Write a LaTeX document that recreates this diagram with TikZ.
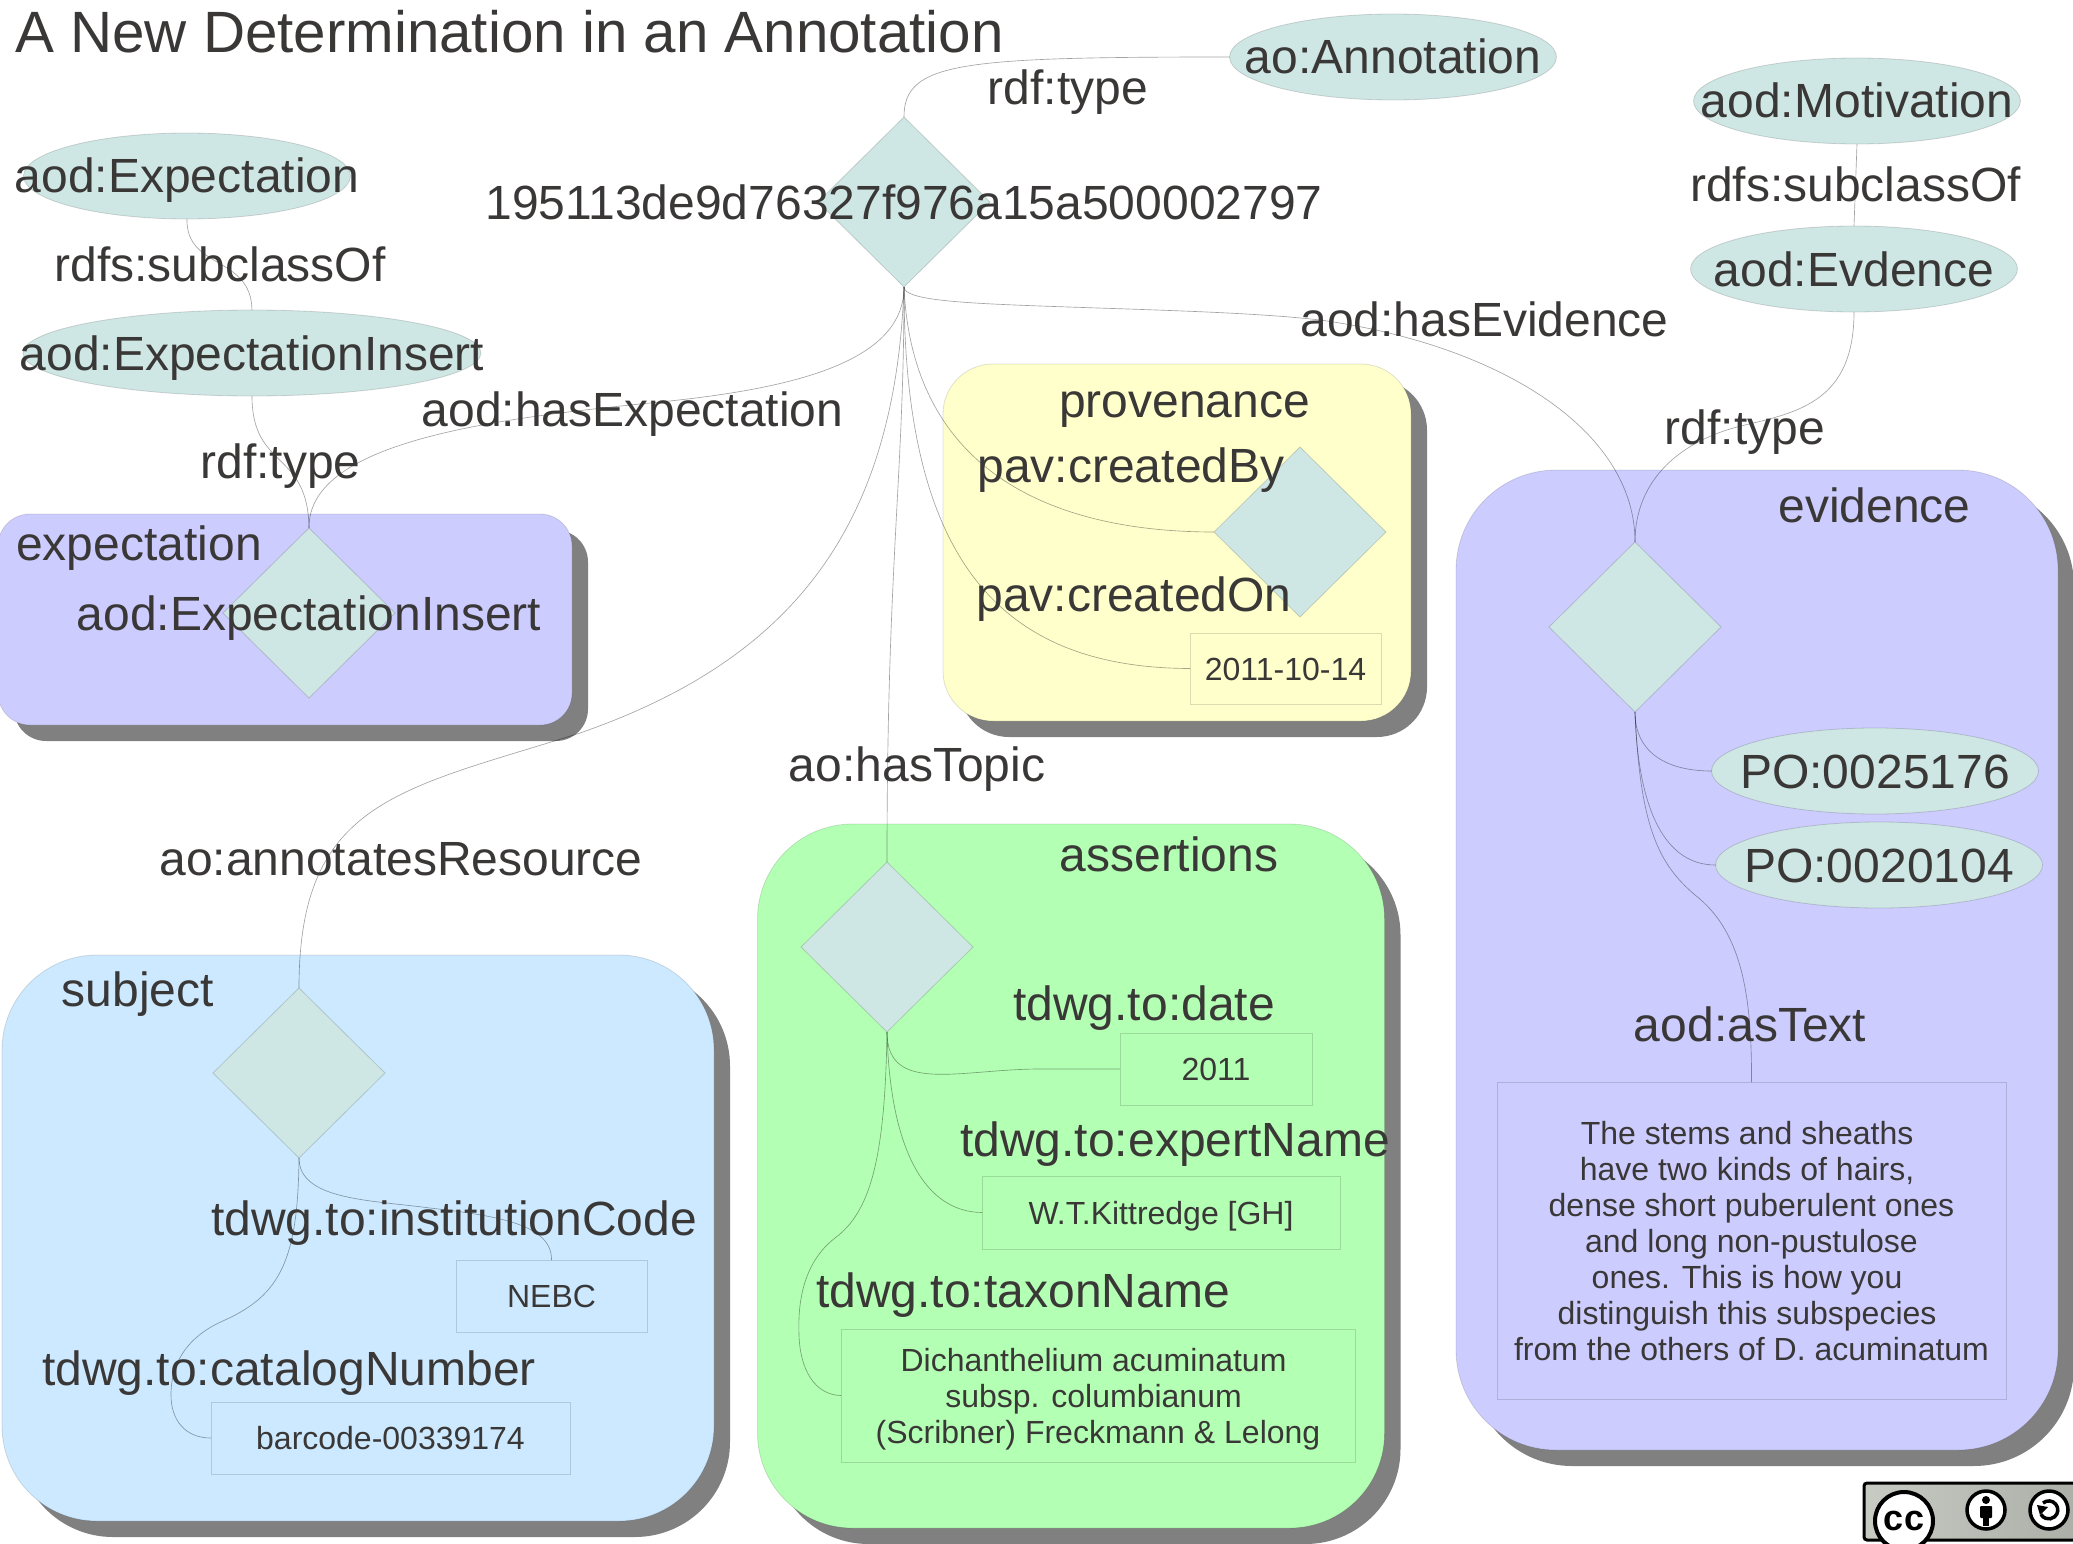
\documentclass[tikz,border=0pt]{standalone}
\usepackage{fontspec}
\setmainfont{Liberation Sans}
\usepackage{xcolor}
\usepackage{tikz}
\usetikzlibrary{shapes.geometric, shadows}
\definecolor{inktext}{RGB}{58,55,55}
\definecolor{shapeteal}{RGB}{207,231,228}
\definecolor{lavenderbox}{RGB}{204,204,254}
\definecolor{yellowbox}{RGB}{255,255,204}
\definecolor{greenbox}{RGB}{179,255,179}
\definecolor{bluebox}{RGB}{204,233,255}
\definecolor{boxshadow}{RGB}{128,128,128}
\definecolor{badgelight}{RGB}{200,203,196}
\definecolor{badgegray}{RGB}{168,172,164}
\newcommand{\trailgap}{\kern8.9pt}
\tikzset{
    ellipsenode/.style={ellipse, fill=shapeteal, draw=black, draw opacity=0.15, line width=0.8pt, inner sep=0pt, outer sep=0pt, minimum width=327pt, minimum height=86pt, text=inktext, text height=36pt, text depth=2pt, font=\fontsize{48}{56}\selectfont},
    diamondnode/.style={diamond, fill=shapeteal, draw=black, draw opacity=0.15, line width=0.8pt, inner sep=0pt, outer sep=0pt, minimum width=172pt, minimum height=170pt, text=inktext, text height=36pt, text depth=2pt, font=\fontsize{48}{56}\selectfont},
    literalnode/.style={rectangle, draw=black, draw opacity=0.14, line width=0.8pt, inner sep=0pt, outer sep=0pt, text=inktext, align=center, font=\fontsize{32}{36}\selectfont},
    oneline/.style={text height=23pt, text depth=0pt},
    groupbox/.style={rectangle, draw=black, draw opacity=0.12, line width=0.8pt, inner sep=0pt, outer sep=0pt, drop shadow={shadow xshift=16pt, shadow yshift=-16pt, fill=boxshadow, opacity=1}},
    proplabel/.style={anchor=base, inner sep=0pt, xshift=1pt, yshift=-1.2pt, text=inktext, font=\fontsize{48}{56}\selectfont},
    relation/.style={draw=black, draw opacity=0.36, line width=0.65pt},
}
\begin{document}
\begin{tikzpicture}[x=1pt, y=-1pt]
    \useasboundingbox (0,0) rectangle (2073,1544);
    % Named graphs
    \node[groupbox, fill=lavenderbox, rounded corners=32pt, minimum width=574pt, minimum height=211pt] (expectbox) at (285,619.5) {};
    \node[groupbox, fill=yellowbox, rounded corners=50pt, minimum width=468pt, minimum height=357pt] (provbox) at (1177,542.5) {};
    \node[groupbox, fill=lavenderbox, rounded corners=100pt, minimum width=602pt, minimum height=980pt] (evidbox) at (1757,960) {};
    \node[groupbox, fill=greenbox, rounded corners=95pt, minimum width=627pt, minimum height=704pt] (assertbox) at (1071,1176) {};
    \node[groupbox, fill=bluebox, rounded corners=95pt, minimum width=712pt, minimum height=566pt] (subjbox) at (358,1238) {};
    % Classes
    \node[ellipsenode] (annotation) at (1393,57) {\makebox[0pt]{ao:Annotation}};
    \node[ellipsenode] (motivation) at (1857,101) {\makebox[0pt]{aod:Motivation}};
    \node[ellipsenode] (evdence) at (1854,269) {\makebox[0pt]{aod:Evdence}};
    \node[ellipsenode] (expectclass) at (187,176) {\makebox[0pt]{aod:Expectation}};
    \node[ellipsenode, minimum width=458pt] (insertclass) at (252,353) {\makebox[0pt]{aod:ExpectationInsert}};
    \node[ellipsenode] (poone) at (1875,771) {\makebox[0pt]{PO:0025176}};
    \node[ellipsenode] (potwo) at (1879,865) {\makebox[0pt]{PO:0020104}};
    % Resources
    \node[diamondnode] (mainres) at (904,202) {\makebox[0pt]{195113de9d76327f976a15a500002797}};
    \node[diamondnode] (expectres) at (309,613) {\makebox[0pt]{aod:ExpectationInsert}};
    \node[diamondnode] (provres) at (1300,532) {};
    \node[diamondnode] (evidres) at (1635,627) {};
    \node[diamondnode] (assertres) at (887,947) {};
    \node[diamondnode] (subjres) at (299,1073) {};
    % Literals
    \node[literalnode, oneline, minimum width=191pt, minimum height=71pt] (litcreated) at (1285.5,668.5) {2011-10-14};
    \node[literalnode, oneline, minimum width=192pt, minimum height=72pt] (litdate) at (1216,1069) {2011};
    \node[literalnode, oneline, minimum width=358pt, minimum height=73pt] (litexpert) at (1161,1212.5) {W.T.Kittredge [GH]};
    \node[literalnode, minimum width=514pt, minimum height=133pt] (littaxon) at (1098,1395.5) {\rule{0pt}{30pt}Dichanthelium acuminatum\trailgap\\subsp. columbianum\trailgap\\(Scribner) Freckmann \& Lelong};
    \node[literalnode, oneline, minimum width=191pt, minimum height=72pt] (litinst) at (551.5,1296) {NEBC};
    \node[literalnode, oneline, minimum width=359pt, minimum height=72pt] (litcatalog) at (390.5,1438) {barcode-00339174};
    \node[literalnode, minimum width=509pt, minimum height=317pt] (littext) at (1751.5,1240.5) {\rule{0pt}{25pt}The stems and sheaths\trailgap\\have two kinds of hairs,\trailgap\\dense short puberulent ones\\and long non-pustulose\\ones. This is how you\trailgap\\distinguish this subspecies\trailgap\\from the others of D. acuminatum};
    % Relations
    \draw[relation] (mainres.north) .. controls (904,62) and (960,57) .. (annotation.west);
    \draw[relation] (motivation.south) -- (evdence.north);
    \draw[relation] (expectclass.south) .. controls (186,270) and (251,255) .. (insertclass.north);
    \draw[relation] (insertclass.south) .. controls (252,470) and (308,450) .. (expectres.north);
    \draw[relation] (mainres.south) .. controls (904,360) and (800,388) .. (660,402) .. controls (500,418) and (308,440) .. (expectres.north);
    \draw[relation] (mainres.south) .. controls (904,300) and (960,303) .. (1040,306) .. controls (1150,310) and (1250,312) .. (1320,320) .. controls (1500,345) and (1635,430) .. (evidres.north);
    \draw[relation] (evdence.south) .. controls (1854,400) and (1800,412) .. (1745,425) .. controls (1680,440) and (1635,480) .. (evidres.north);
    \draw[relation] (mainres.south) .. controls (912,470) and (1050,532) .. (provres.west);
    \draw[relation] (mainres.south) .. controls (904,560) and (1000,668) .. (litcreated.west);
    \draw[relation] (mainres.south) .. controls (904,480) and (887,560) .. (assertres.north);
    \draw[relation] (mainres.south) .. controls (895,530) and (790,660) .. (580,733) .. controls (400,790) and (299,800) .. (subjres.north);
    \draw[relation] (assertres.south) .. controls (887,1095) and (960,1069) .. (1040,1069) -- (litdate.west);
    \draw[relation] (assertres.south) .. controls (890,1150) and (925,1212) .. (litexpert.west);
    \draw[relation] (assertres.south) .. controls (885,1160) and (870,1212) .. (835,1238) .. controls (800,1265) and (798,1310) .. (799,1335) .. controls (800,1370) and (815,1395) .. (littaxon.west);
    \draw[relation] (subjres.south) .. controls (299,1200) and (370,1200) .. (430,1208) .. controls (500,1216) and (552,1225) .. (litinst.north);
    \draw[relation] (subjres.south) .. controls (298,1260) and (280,1295) .. (225,1320) .. controls (190,1335) and (171,1360) .. (171,1395) .. controls (171,1420) and (185,1438) .. (litcatalog.west);
    \draw[relation] (evidres.south) .. controls (1635,755) and (1670,771) .. (poone.west);
    \draw[relation] (evidres.south) .. controls (1638,810) and (1665,865) .. (potwo.west);
    \draw[relation] (evidres.south) .. controls (1640,830) and (1660,865) .. (1695,895) .. controls (1740,930) and (1752,990) .. (littext.north);
    % Title and labels
    \node[proplabel, anchor=base west, font=\fontsize{58.3}{66}\selectfont] (title) at (14,51) {A New Determination in an Annotation};
    \foreach \lname/\lx/\ly/\ltext in {
        typetop/1067/103/rdf:type,
        subleft/219/280/rdfs:subclassOf,
        typeleft/279.5/477/rdf:type,
        hasexpect/631.5/425/aod:hasExpectation,
        hasevid/1483.5/335/aod:hasEvidence,
        subright/1854.5/200/rdfs:subclassOf,
        typeright/1744/443/rdf:type,
        hastopic/916/780/ao:hasTopic,
        annotates/400/874/ao:annotatesResource,
        createdby/1130/481/pav:createdBy,
        createdon/1133/610.5/pav:createdOn,
        dateprop/1143/1019/tdwg.to:date,
        expertprop/1174/1155/tdwg.to:expertName,
        taxonprop/1022/1306/tdwg.to:taxonName,
        instprop/453/1234/tdwg.to:institutionCode,
        catalogprop/288/1384/tdwg.to:catalogNumber,
        astext/1749/1040/aod:asText,
        expectlabel/138/559/expectation,
        provlabel/1183.5/416/provenance,
        evidlabel/1873.5/521/evidence,
        assertlabel/1168/870/assertions,
        subjlabel/137/1005/subject} {
        \node[proplabel] (\lname) at (\lx,\ly) {\ltext};
    }
    % Licence badge
    \draw[left color=badgelight, right color=badgegray, draw=black, line width=3pt, rounded corners=3pt] (1864,1483) rectangle (2100,1540);
    \node[circle, fill=white, draw=black, line width=4pt, minimum size=58pt, inner sep=0pt, font=\fontsize{36}{36}\selectfont\bfseries] (ccmark) at (1904,1521) {cc};
    \node[circle, fill=white, draw=black, line width=3.5pt, minimum size=38pt, inner sep=0pt] (bymark) at (1986,1510) {};
    \node[circle, fill=white, draw=black, line width=3.5pt, minimum size=38pt, inner sep=0pt] (samark) at (2049,1510) {};
    \fill (1986,1500) circle (4pt);
    \fill[rounded corners=1pt] (1980,1506) rectangle (1992,1518);
    \fill (1983,1518) rectangle (1989,1526);
    \draw[line width=3.5pt] (2043,1503) arc (130:-150:9pt);
    \fill (2037,1505) -- (2048,1507) -- (2040,1515) -- cycle;
\end{tikzpicture}
\end{document}
